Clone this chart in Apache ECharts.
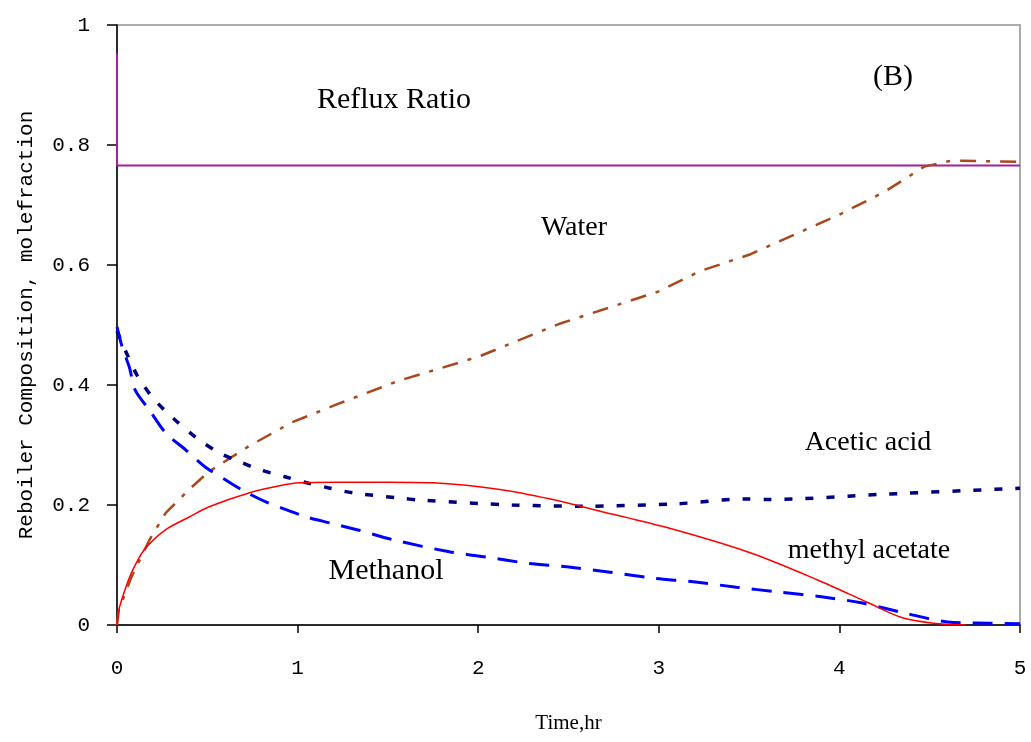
<!DOCTYPE html>
<html>
<head>
<meta charset="utf-8">
<script src="https://cdn.jsdelivr.net/npm/echarts@6/dist/echarts.min.js"></script>
<style>html,body{margin:0;padding:0;background:#fff}#c{width:1031px;height:742px}</style>
</head>
<body>
<div id="c"></div>
<script>
// ---- data ----
const xTicks = [0, 1, 2, 3, 4, 5];
const yTicks = [0, 0.2, 0.4, 0.6, 0.8, 1];

const waterX = [0, 0.01, 0.08, 0.18, 0.27, 0.4, 0.51, 0.73, 0.97, 1.22, 1.55, 2.0, 2.45, 3.0, 3.23, 3.5, 4.0, 4.25, 4.47, 4.62, 5.0];
const waterY = [0, 0.025, 0.08, 0.142, 0.187, 0.226, 0.256, 0.298, 0.338, 0.368, 0.406, 0.447, 0.502, 0.556, 0.59, 0.617, 0.684, 0.722, 0.764, 0.774, 0.772];

const mAcX = [0, 0.01, 0.04, 0.08, 0.15, 0.27, 0.4, 0.51, 0.73, 0.9, 1.01, 1.2, 1.5, 1.75, 2.12, 2.4, 2.67, 3.05, 3.51, 3.88, 4.16, 4.34, 4.52, 4.7];
const mAcY = [0, 0.025, 0.055, 0.087, 0.125, 0.159, 0.18, 0.197, 0.22, 0.232, 0.237, 0.238, 0.238, 0.237, 0.226, 0.21, 0.19, 0.162, 0.12, 0.075, 0.037, 0.013, 0.003, 0];

const aceticX = [0, 0.05, 0.11, 0.2, 0.31, 0.44, 0.56, 0.68, 0.8, 0.93, 1.05, 1.18, 1.31, 1.55, 1.69, 2.19, 2.58, 3.1, 3.47, 3.6, 4.25, 5.0];
const aceticY = [0.49, 0.455, 0.417, 0.378, 0.345, 0.312, 0.288, 0.272, 0.258, 0.247, 0.237, 0.228, 0.22, 0.212, 0.208, 0.2, 0.198, 0.202, 0.21, 0.209, 0.218, 0.228];

const methX = [0, 0.03, 0.07, 0.1, 0.18, 0.27, 0.38, 0.49, 0.6, 0.71, 0.84, 0.94, 1.05, 1.18, 1.34, 1.53, 1.84, 2.05, 2.27, 2.49, 2.73, 2.97, 3.19, 3.43, 3.66, 3.9, 4.12, 4.36, 4.6, 4.84, 5.0];
const methY = [0.497, 0.462, 0.428, 0.392, 0.358, 0.32, 0.292, 0.263, 0.242, 0.222, 0.203, 0.192, 0.18, 0.17, 0.158, 0.142, 0.122, 0.113, 0.103, 0.097, 0.088, 0.078, 0.072, 0.063, 0.055, 0.047, 0.037, 0.02, 0.005, 0.003, 0.002];

const refluxX = [0, 0, 5];
const refluxY = [0.953, 0.766, 0.766];

const labels = ["Reflux Ratio", "(B)", "Water", "Acetic acid", "methyl acetate", "Methanol"];

// ---- chart ----
const pairs = (xs, ys) => xs.map((x, i) => [x, ys[i]]);
const chart = echarts.init(document.getElementById('c'), null, {renderer: 'canvas'});
const serif = 'Liberation Serif';
const mono = 'Liberation Mono';

function txt(s, x, y, size) {
  return {type: 'text', x: x, y: y, z: 100,
    style: {text: s, fontFamily: serif, fontSize: size, fill: '#000', align: 'center', verticalAlign: 'middle',
            textAlign: 'center', textVerticalAlign: 'middle'}};
}

chart.setOption({
  animation: false,
  backgroundColor: '#fff',
  grid: {left: 117, right: 11, top: 25, bottom: 117, show: true, borderColor: '#aaa', borderWidth: 2, backgroundColor: 'transparent'},
  xAxis: {
    type: 'value', min: 0, max: 5, interval: 1,
    name: 'Time,hr', nameLocation: 'middle', nameGap: 88,
    nameTextStyle: {fontFamily: serif, fontSize: 21, color: '#000'},
    axisLine: {show: true, lineStyle: {color: '#000', width: 1.5}},
    axisTick: {show: true, length: 8, lineStyle: {color: '#000', width: 1.5}},
    axisLabel: {margin: 33, fontFamily: mono, fontSize: 21, color: '#000', formatter: v => String(v)},
    splitLine: {show: false}
  },
  yAxis: {
    type: 'value', min: 0, max: 1, interval: 0.2,
    name: 'Reboiler Composition, molefraction', nameLocation: 'middle', nameGap: 80,
    nameTextStyle: {fontFamily: mono, fontSize: 21, color: '#000'},
    axisLine: {show: true, lineStyle: {color: '#000', width: 1.5}},
    axisTick: {show: true, length: 10, lineStyle: {color: '#000', width: 1.5}},
    axisLabel: {margin: 27, fontFamily: mono, fontSize: 21, color: '#000', formatter: v => String(Math.round(v * 10) / 10)},
    splitLine: {show: false}
  },
  series: [
    {type: 'line', name: 'Reflux Ratio', data: pairs(refluxX, refluxY), symbol: 'none', lineStyle: {color: '#A020A0', width: 2}},
    {type: 'line', name: 'Water', data: pairs(waterX, waterY), symbol: 'none', lineStyle: {color: '#A8481C', width: 2.5, type: [16, 10, 4, 10]}},
    {type: 'line', name: 'Acetic acid', data: pairs(aceticX, aceticY), symbol: 'none', smooth: 0.3, lineStyle: {color: '#000080', width: 3.5, type: [8, 13]}},
    {type: 'line', name: 'Methanol', data: pairs(methX, methY), symbol: 'none', smooth: 0.3, lineStyle: {color: '#0000FF', width: 3, type: [20, 12]}},
    {type: 'line', name: 'methyl acetate', data: pairs(mAcX, mAcY), symbol: 'none', smooth: 0.3, lineStyle: {color: '#FF0000', width: 1.5}}
  ],
  graphic: [
    txt(labels[0], 394, 100, 30),
    txt(labels[1], 893, 77, 30),
    txt(labels[2], 574, 228, 28),
    txt(labels[3], 868, 443, 28),
    txt(labels[4], 869, 551, 28),
    txt(labels[5], 386, 571, 30)
  ]
});
</script>
</body>
</html>
